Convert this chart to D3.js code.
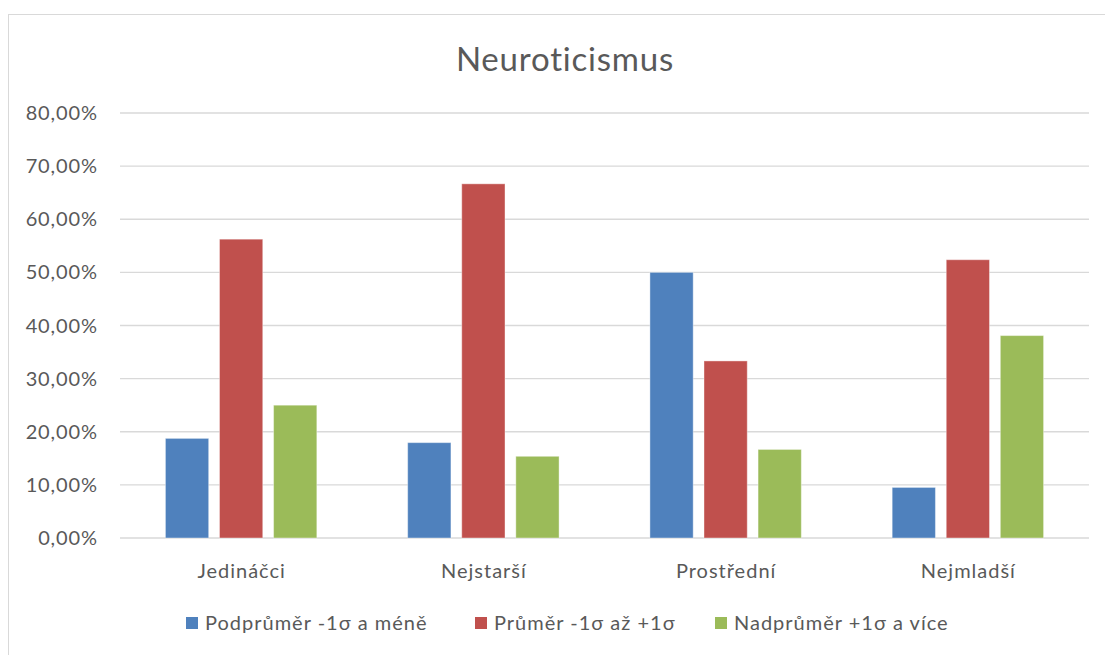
<!DOCTYPE html>
<html>
<head>
<meta charset="utf-8">
<script src="https://cdn.jsdelivr.net/npm/d3@7"></script>
<style>
  body { margin: 0; background: #fff; }
  text { font-family: Lato, "Open Sans", sans-serif; fill: #595959; }
</style>
</head>
<body>
<svg id="chart" width="1105" height="655"></svg>
<script>
const categories = ["Jedináčci", "Nejstarší", "Prostřední", "Nejmladší"];
const seriesNames = ["Podprůměr -1σ a méně", "Průměr -1σ až +1σ", "Nadprůměr +1σ a více"];
const colors = ["#4f81bd", "#c0504d", "#9bbb59"];
const podprumer = [0.1875, 0.1795, 0.5000, 0.0952];
const prumer = [0.5625, 0.6667, 0.3333, 0.5238];
const nadprumer = [0.2500, 0.1538, 0.1667, 0.3810];
const yTicks = [0, 0.1, 0.2, 0.3, 0.4, 0.5, 0.6, 0.7, 0.8];

const series = [podprumer, prumer, nadprumer];

const svg = d3.select("#chart");

// chart frame (only top/left edges visible in the shot)
svg.append("rect")
    .attr("x", 8.5).attr("y", 14.5)
    .attr("width", 1200).attr("height", 800)
    .attr("fill", "none")
    .attr("stroke", "#d9d9d9");

var x0 = d3.scaleBand().domain(categories).range([120, 1089]);
var groupW = x0.bandwidth() * 0.625;
var x1 = d3.scaleBand().domain(d3.range(3)).range([0, groupW]).paddingInner(0.2);
var y = d3.scaleLinear().domain([0, 0.8]).range([538, 113]);

var fmt = v => d3.format(".2f")(v * 100).replace(".", ",") + "%";

// gridlines
svg.append("g").selectAll("line").data(yTicks)
    .join("line")
    .attr("x1", 120).attr("x2", 1089)
    .attr("y1", d => y(d)).attr("y2", d => y(d))
    .attr("stroke", "#d9d9d9")
    .attr("stroke-width", 1.3);

// y labels
svg.append("g").selectAll("text").data(yTicks)
    .join("text")
    .attr("x", 98).attr("y", d => y(d))
    .attr("dy", "0.35em")
    .attr("text-anchor", "end")
    .style("font-size", "20px")
    .style("letter-spacing", "0.9px")
    .text(fmt);

// bars
var rows = categories.map((c, i) => ({ cat: c, vals: series.map(s => s[i]) }));
svg.append("g").selectAll("g").data(rows)
    .join("g")
    .attr("transform", d => `translate(${x0(d.cat) + (x0.bandwidth() - groupW) / 2},0)`)
    .selectAll("rect")
    .data(d => d.vals.map((v, k) => ({ k: k, v: v })))
    .join("rect")
    .attr("x", d => x1(d.k))
    .attr("width", x1.bandwidth())
    .attr("y", d => y(d.v))
    .attr("height", d => y(0) - y(d.v))
    .attr("fill", d => colors[d.k])
    .attr("stroke", "#ffffff")
    .attr("stroke-opacity", 0.4)
    .attr("stroke-width", 1);

// category labels
svg.append("g").selectAll("text").data(categories)
    .join("text")
    .attr("x", d => x0(d) + x0.bandwidth() / 2 + 0.5)
    .attr("y", 578)
    .attr("text-anchor", "middle")
    .style("font-size", "20px")
    .style("letter-spacing", "1px")
    .text(d => d);

// title
svg.append("text")
    .attr("x", 565).attr("y", 71)
    .attr("text-anchor", "middle")
    .style("font-size", "33px")
    .style("letter-spacing", "0.8px")
    .text("Neuroticismus");

// legend
var legendX = [186, 475, 715];
var legend = svg.append("g").selectAll("g").data(seriesNames)
    .join("g")
    .attr("transform", (d, i) => `translate(${legendX[i]},617)`);
legend.append("rect")
    .attr("width", 12).attr("height", 12)
    .attr("fill", (d, i) => colors[i]);
legend.append("text")
    .attr("x", 19).attr("y", 6)
    .attr("dy", "0.35em")
    .style("font-size", "20px")
    .style("letter-spacing", "1px")
    .text(d => d);
</script>
</body>
</html>
